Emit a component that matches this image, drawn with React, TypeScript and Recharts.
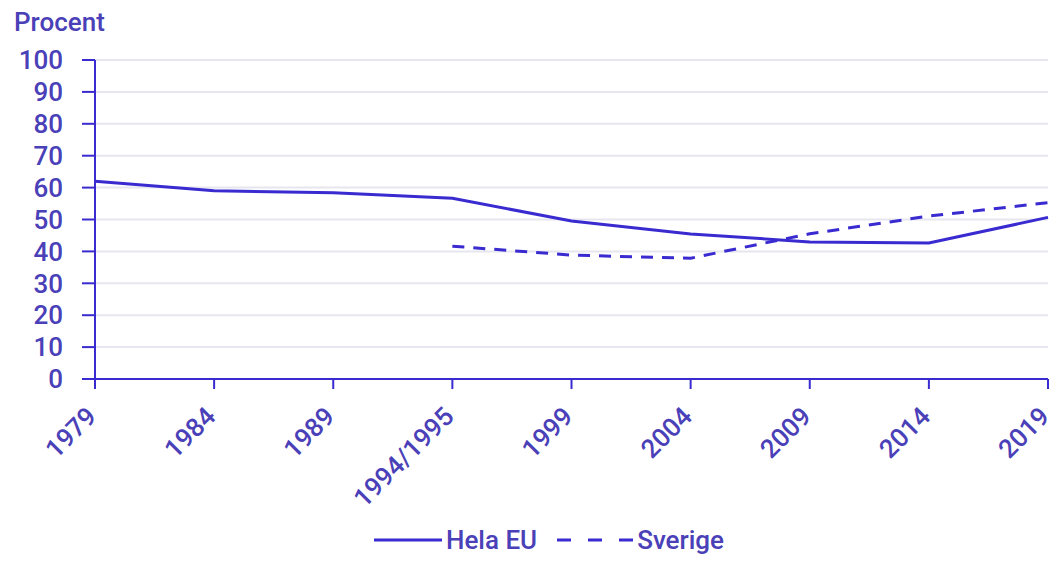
import React from "react";
import {
  LineChart,
  Line,
  XAxis,
  YAxis,
  CartesianGrid,
  Legend,
} from "recharts";

const years = ["1979", "1984", "1989", "1994/1995", "1999", "2004", "2009", "2014", "2019"];
const helaEU = [61.99, 58.98, 58.41, 56.67, 49.51, 45.47, 42.97, 42.61, 50.66];
const sverige = [null, null, null, 41.63, 38.84, 37.85, 45.53, 51.07, 55.27];
const yTicks = [0, 10, 20, 30, 40, 50, 60, 70, 80, 90, 100];

const data = years.map((year, i) => ({
  year,
  helaEU: helaEU[i],
  sverige: sverige[i],
}));

const LINE = "#3a2bd0";
const TEXT = "#4a40b8";
const FONT = "Roboto, 'Noto Sans', sans-serif";

function XTick(props: any) {
  const { x, y, payload } = props;
  return (
    <g transform={`translate(${x + 3},${y + 27})`}>
      <text
        x={0}
        y={0}
        textAnchor="end"
        fill={TEXT}
        fontSize={26}
        fontWeight={500}
        fontFamily={FONT}
        transform="rotate(-45)"
      >
        {payload.value}
      </text>
    </g>
  );
}

function YTitle(props: any) {
  const vb = props.viewBox || { x: 0, y: 60 };
  return (
    <text x={vb.x + 14} y={vb.y - 29} fill={TEXT} fontSize={26} fontWeight={500} fontFamily={FONT}>
      Procent
    </text>
  );
}

function LegendBox() {
  return (
    <div
      style={{
        display: "flex",
        justifyContent: "center",
        alignItems: "center",
        fontFamily: FONT,
        fontSize: 26,
        fontWeight: 500,
        color: TEXT,
        height: 50,
        paddingLeft: 50,
      }}
    >
      <svg width={68} height={10} style={{ marginRight: 4 }}>
        <line x1={0} y1={5} x2={68} y2={5} stroke={LINE} strokeWidth={3} />
      </svg>
      <span>Hela EU</span>
      <svg width={76} height={10} style={{ marginLeft: 20, marginRight: 4 }}>
        <line x1={0} y1={5} x2={76} y2={5} stroke={LINE} strokeWidth={3} strokeDasharray="14 17" />
      </svg>
      <span>Sverige</span>
    </div>
  );
}

export default function App() {
  return (
    <div style={{ position: "absolute", left: 0, top: 0, width: 1056, height: 565, background: "#fff" }}>
      <LineChart
        width={1056}
        height={565}
        data={data}
        margin={{ top: 60, right: 8, left: 0, bottom: 0 }}
      >
        <CartesianGrid stroke="#e6e6ef" strokeWidth={2} vertical={false} />
        <XAxis
          dataKey="year"
          height={136}
          interval={0}
          tick={<XTick />}
          tickSize={10}
          axisLine={{ stroke: LINE, strokeWidth: 2 }}
          tickLine={{ stroke: LINE, strokeWidth: 2 }}
        />
        <YAxis
          width={95}
          domain={[0, 100]}
          ticks={yTicks}
          interval={0}
          tickSize={13}
          tickMargin={19}
          tick={{ fill: TEXT, fontSize: 26, fontWeight: 500, fontFamily: FONT }}
          axisLine={{ stroke: LINE, strokeWidth: 2 }}
          tickLine={{ stroke: LINE, strokeWidth: 2 }}
          label={<YTitle />}
        />
        <Legend verticalAlign="bottom" height={50} content={<LegendBox />} />
        <Line
          type="linear"
          dataKey="helaEU"
          stroke={LINE}
          strokeWidth={3}
          dot={false}
          isAnimationActive={false}
        />
        <Line
          type="linear"
          dataKey="sverige"
          stroke={LINE}
          strokeWidth={3}
          strokeDasharray="12 9"
          dot={false}
          connectNulls={false}
          isAnimationActive={false}
        />
      </LineChart>
    </div>
  );
}
